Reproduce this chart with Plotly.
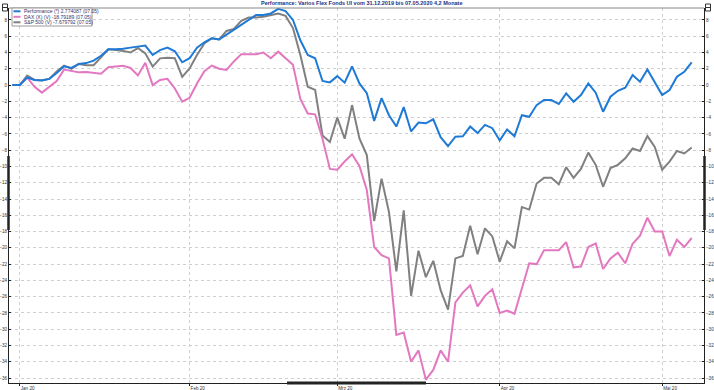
import pandas as pd
import plotly.graph_objects as go

dates = pd.bdate_range("2019-12-31", "2020-05-07")

perf = [0, 0, 0.93, 0.63, 0.55, 0.76, 1.47, 2.3, 2.1, 2.6, 2.7, 3.0, 3.6, 4.4, 4.4, 4.45, 4.6, 4.7, 4.85, 3.7,
        4.3, 4.6, 4.15, 2.8, 3.3, 4.6, 5.26, 5.75, 5.6, 6.2, 6.8, 7.5, 8.1, 8.6, 8.6, 8.8, 9.36, 9.1, 8.0, 5.5,
        3.7, 3.3, 0.5, 0.33, 1.1, 0.3, 2.3, 0.2, -1.0, -4.4, -1.6, -3.7, -5.1, -2.7, -5.7, -4.6, -4.7, -4.2, -6.4, -7.5,
        -6.35, -6.3, -5.1, -5.9, -4.9, -5.3, -6.8, -5.45, -6.3, -3.7, -3.9, -2.46, -1.84, -1.84, -2.33, -1.02, -2.05, -1.23, 0.2, -0.94,
        -3.28, -1.43, -0.7, -0.33, 1.23, 0.41, 1.92, 0.41, -1.23, -0.61, 1.02, 1.64, 2.774087]

dax = [0, 0, 0.93, -0.21, -0.93, -0.21, 0.5, 1.9, 1.77, 1.56, 1.6, 1.47, 1.39, 2.2, 2.3, 2.36, 2.1, 1.18, 2.74, 0,
       0.63, 0.76, -0.42, -2.05, -1.56, 0.2, 1.7, 2.4, 2.0, 1.85, 2.9, 3.8, 3.8, 3.8, 4.0, 3.3, 4.1, 3.3, 2.5, -1.7,
       -3.5, -3.6, -6.6, -10.3, -10.4, -9.4, -8.5, -9.95, -12.9, -19.9, -20.9, -21.3, -30.7, -30.4, -34.0, -32.6, -36.2, -35.0, -32.6, -34.0,
       -26.7, -25.5, -24.6, -27.2, -25.9, -25.1, -28.0, -27.7, -28.1, -25.0, -21.9, -22.0, -20.3, -20.3, -20.3, -19.3, -22.4, -22.3, -19.9, -19.45,
       -22.6, -21.3, -20.6, -21.9, -19.5, -18.5, -16.3, -18.0, -18.0, -21.0, -19.0, -19.9, -18.79189]

sp500 = [0, 0, 1.18, 0.63, 0.59, 0.76, 1.68, 2.4, 2.0, 2.6, 2.44, 2.44, 3.4, 4.4, 4.3, 4.2, 4.0, 4.55, 3.9, 2.27,
         3.28, 3.37, 3.3, 1.0, 2.05, 3.7, 5.1, 5.75, 5.6, 6.65, 6.9, 7.9, 8.3, 8.3, 8.4, 8.6, 8.8, 8.5, 7.0, 3.7,
         -0.2, -0.6, -6.2, -7.0, -4.0, -6.6, -2.46, -6.55, -8.6, -16.7, -11.5, -15.6, -22.9, -15.4, -25.9, -20.35, -23.6, -21.6, -25.2, -27.6,
         -21.3, -21.0, -17.3, -20.8, -17.6, -18.6, -21.7, -19.2, -20.07, -15.0, -15.3, -12.1, -11.4, -11.4, -12.2, -10.1, -11.4, -10.3, -8.3, -9.8,
         -12.5, -10.2, -9.8, -9.0, -7.8, -8.1, -6.27, -7.6, -10.4, -9.4, -8.1, -8.4, -7.679792]

series_names = ["Performance (*) 2.774087 (07.05)",
                "DAX (X) (V) -18.79189 (07.05)",
                "S&P 500 (V) -7.679792 (07.05)"]
series_colors = ["#1f7ad6", "#e378c0", "#808080"]

tick_dates = ["2020-01-01", "2020-02-03", "2020-03-02", "2020-04-01", "2020-05-01"]
tick_labels = ["Jan 20", "Feb 20", "Mrz 20", "Apr 20", "Mai 20"]
y_ticks = list(range(8, -37, -2))

title = "Performance: Varios Flex Fonds UI vom 31.12.2019 bis 07.05.2020 4,2 Monate"

W, H = 714, 390
L, R, T, B = 9, 10, 8, 7
PW, PH = W - L - R, H - T - B


def px(x):
    return (x - L) / PW


def py(y):
    return 1 - (y - T) / PH


fig = go.Figure()
# draw order: gray, pink, blue on top
for vals, name, col in [(sp500, series_names[2], series_colors[2]),
                        (dax, series_names[1], series_colors[1]),
                        (perf, series_names[0], series_colors[0])]:
    fig.add_trace(go.Scatter(x=dates, y=vals, mode="lines", name=name,
                             line=dict(color=col, width=2), showlegend=False))

fig.add_trace(go.Scatter(x=dates, y=perf, mode="lines", yaxis="y2",
                         line=dict(width=0), opacity=0, showlegend=False, hoverinfo="skip"))

yr = [-36.61, 9.47]
axis_font = dict(family="Liberation Sans, Arial", size=4.6, color="#333333")
fig.update_layout(
    width=W, height=H,
    margin=dict(l=L, r=R, t=T, b=B, autoexpand=False),
    paper_bgcolor="white", plot_bgcolor="white",
    xaxis=dict(type="date", range=["2019-12-30 13:00", "2020-05-08 16:00"],
               rangebreaks=[dict(bounds=["sat", "mon"])],
               tickvals=tick_dates, ticktext=tick_labels, tickfont=axis_font,
               ticklabelposition="outside right",
               showgrid=True, gridcolor="#cfcfcf", griddash="dot", gridwidth=1,
               showline=True, linecolor="#222222", linewidth=1,
               ticks="outside", ticklen=2, tickcolor="#222222", zeroline=False),
    yaxis=dict(range=yr, tickvals=y_ticks, tickfont=axis_font,
               showgrid=True, gridcolor="#cfcfcf", griddash="dot", gridwidth=1,
               showline=True, linecolor="#222222", linewidth=1,
               ticks="inside", ticklen=2, tickcolor="#222222", zeroline=False),
    yaxis2=dict(range=yr, tickvals=y_ticks, tickfont=axis_font, overlaying="y", side="right",
                showgrid=False, showline=True, linecolor="#222222", linewidth=1,
                ticks="inside", ticklen=2, tickcolor="#222222", zeroline=False),
    showlegend=False,
)

shapes = []
# top border
shapes.append(dict(type="line", xref="paper", yref="paper", x0=0, x1=1, y0=1, y1=1,
                   line=dict(color="#888888", width=1)))
# scroll thumbs
shapes.append(dict(type="line", xref="paper", yref="paper", x0=px(8.5), x1=px(8.5), y0=py(156), y1=py(230),
                   line=dict(color="#222222", width=2.5)))
shapes.append(dict(type="line", xref="paper", yref="paper", x0=px(704.5), x1=px(704.5), y0=py(156), y1=py(230),
                   line=dict(color="#222222", width=2.5)))
shapes.append(dict(type="line", xref="paper", yref="paper", x0=px(287), x1=px(426), y0=py(383), y1=py(383),
                   line=dict(color="#222222", width=3)))
# corner icons
for cx in (2.5, 705.5):
    shapes.append(dict(type="rect", xref="paper", yref="paper", x0=px(cx), x1=px(cx + 5), y0=py(4), y1=py(11),
                       line=dict(color="#333333", width=1), fillcolor="white"))
    shapes.append(dict(type="line", xref="paper", yref="paper", x0=px(cx), x1=px(cx + 5), y0=py(7.5), y1=py(7.5),
                       line=dict(color="#333333", width=1)))
# legend box
shapes.append(dict(type="rect", xref="paper", yref="paper", x0=px(12), x1=px(92), y0=py(8), y1=py(26),
                   line=dict(color="#9a9a9a", width=1), fillcolor="white"))
annotations = []
row_y = [11.3, 16.8, 22.3]
for yy, name, col in zip(row_y, series_names, series_colors):
    shapes.append(dict(type="line", xref="paper", yref="paper", x0=px(13.5), x1=px(20.5), y0=py(yy), y1=py(yy),
                       line=dict(color=col, width=2)))
    annotations.append(dict(xref="paper", yref="paper", x=px(22), y=py(yy), text=name, showarrow=False,
                            xanchor="left", yanchor="middle",
                            font=dict(family="Liberation Sans, Arial", size=5, color="#333366")))
annotations.append(dict(xref="paper", yref="paper", x=px(361), y=py(3.5), text="<b>" + title + "</b>",
                        showarrow=False, xanchor="center", yanchor="middle",
                        font=dict(family="Liberation Sans, Arial", size=5.5, color="#1c2f80")))
fig.update_layout(shapes=shapes, annotations=annotations)

fig.write_html("out.html", config={"displayModeBar": False},
               post_script="document.body.style.margin='0';document.body.style.overflow='hidden';")
